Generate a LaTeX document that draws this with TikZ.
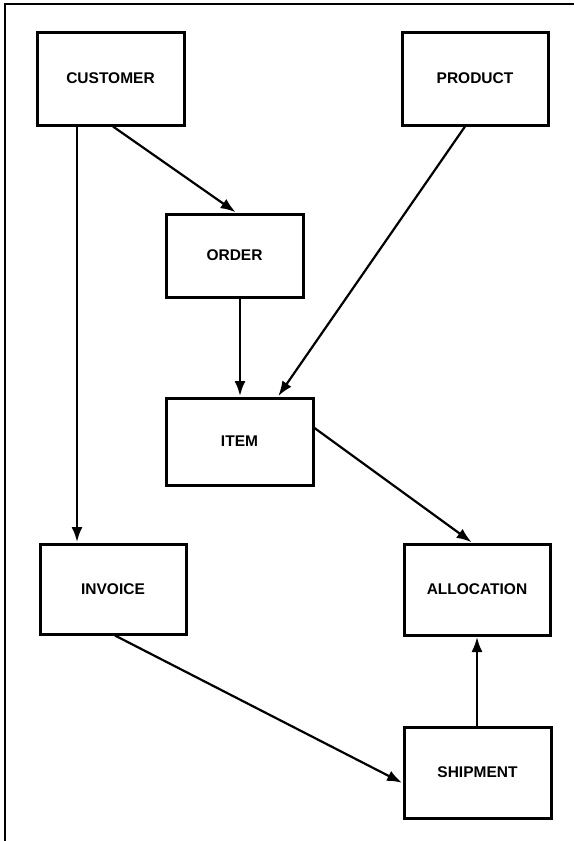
\documentclass[tikz,border=0pt]{standalone}
\usepackage{fontspec}
\setmainfont{Liberation Sans}
\usetikzlibrary{arrows.meta}
\begin{document}
\begin{tikzpicture}[x=1pt,y=-1pt,
  entity/.style={draw,line width=3pt,rectangle,inner sep=0pt,
    font=\fontsize{15.5}{18}\selectfont\bfseries},
  rel/.style={line width=2.2pt,-{Latex[length=15pt,width=11pt]},shorten >=0.5pt},
  frameline/.style={line width=2pt}]
  \useasboundingbox (0,0) rectangle (574,841);
  % page frame (top and left rules)
  \coordinate (fl) at (5,841);
  \coordinate (fc) at (5,4);
  \coordinate (fr) at (574,4);
  \draw[frameline] (fl) -- (fc) -- (fr);

  % entities
  \node[entity,minimum width=147pt,minimum height=93pt] (customer)   at (110.5,78.5) {CUSTOMER};
  \node[entity,minimum width=146pt,minimum height=93pt] (product)    at (475,78.5)   {PRODUCT};
  \node[entity,minimum width=137pt,minimum height=83pt] (order)      at (234.5,255.5){ORDER};
  \node[entity,minimum width=147pt,minimum height=87pt] (item)       at (239.5,441.5){ITEM};
  \node[entity,minimum width=146pt,minimum height=90pt] (invoice)    at (113,589)    {INVOICE};
  \node[entity,minimum width=146pt,minimum height=91pt] (allocation) at (477,589.5)  {ALLOCATION};
  \node[entity,minimum width=147pt,minimum height=91pt] (shipment)   at (477.5,772.5){SHIPMENT};

  % relationships
  \draw[rel] ([xshift=-33.5pt]customer.south) -- ([xshift=-36pt]invoice.north);
  \draw[rel] ([xshift=2.5pt]customer.south) -- ([xshift=1.5pt]order.north);
  \draw[rel] ([xshift=5.5pt]order.south) -- ([xshift=0.5pt]item.north);
  \draw[rel] ([xshift=-10pt]product.south) -- ([xshift=38.5pt]item.north);
  \draw[rel] ([yshift=13.5pt]item.east) -- ([xshift=-5pt]allocation.north);
  \draw[rel] ([xshift=2pt]invoice.south) -- ([yshift=-10.5pt]shipment.west);
  \draw[rel] ([xshift=-0.5pt]shipment.north) -- (allocation.south);
\end{tikzpicture}
\end{document}
